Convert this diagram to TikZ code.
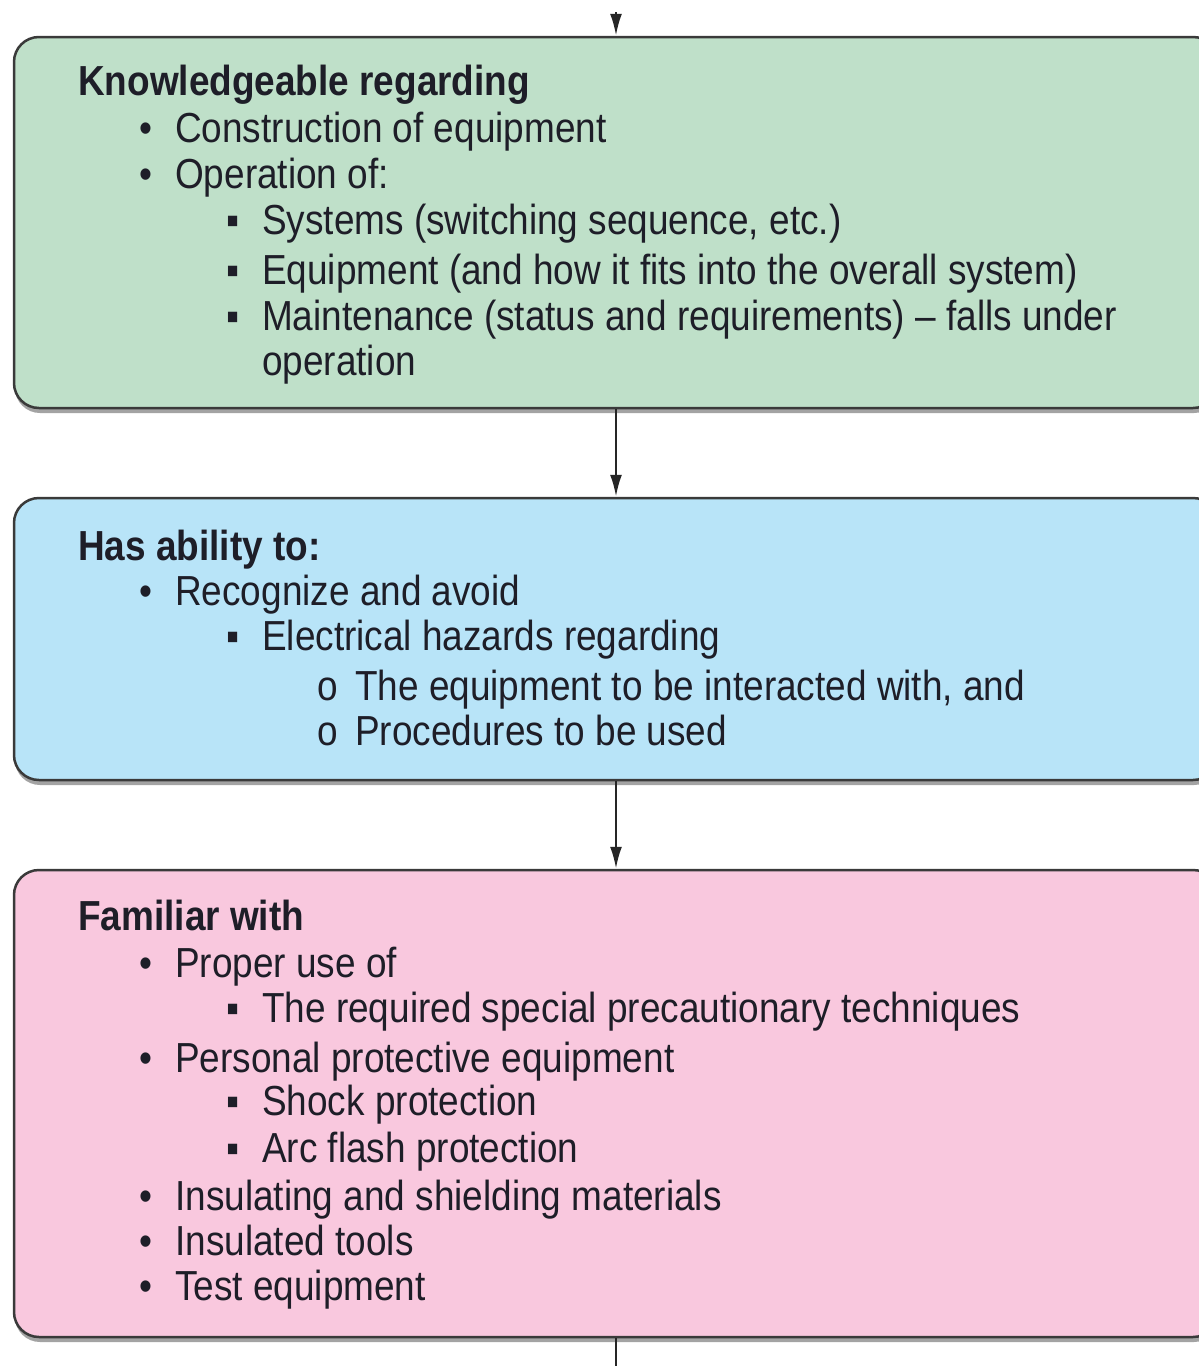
\documentclass[tikz,border=0pt]{standalone}
\usepackage{fontspec}
\setmainfont{Liberation Sans}[FakeStretch=0.88]
\usetikzlibrary{arrows.meta,shadows}
\definecolor{gfill}{HTML}{BFE0C9}
\definecolor{bfill}{HTML}{B8E4F8}
\definecolor{pfill}{HTML}{F9C8DE}
\definecolor{edge}{HTML}{3A3A3A}
\definecolor{ink}{HTML}{1E1E28}
\tikzset{
  box/.style={draw=edge, line width=2.5pt, rounded corners=25pt, minimum width=1204pt,
    drop shadow={shadow xshift=1pt, shadow yshift=-5pt, fill=black!45, opacity=0.8}},
  txt/.style={anchor=base west, inner sep=0pt, text=ink, font=\fontsize{42}{46}\selectfont},
  head/.style={txt, font=\fontsize{42}{46}\selectfont\bfseries},
  conn/.style={draw=black!85, line width=2.4pt, -{Latex[length=22pt,width=12pt]}}
}
\begin{document}
\begin{tikzpicture}[x=1pt,y=-1pt]
\useasboundingbox[fill=white] (0,0) rectangle (1199,1366);
% boxes
\node[box, fill=gfill, minimum height=371pt] (g) at (616,222.5) {};
\node[box, fill=bfill, minimum height=282pt] (b) at (616,639) {};
\node[box, fill=pfill, minimum height=467pt] (p) at (616,1103.5) {};
% connectors
\coordinate (top) at (616,12);
\coordinate (bot) at (616,1380);
\draw[conn] (top) -- (g.north);
\draw[conn] (g.south) -- (b.north);
\draw[conn] (b.south) -- (p.north);
\draw[draw=black!85, line width=2.4pt] (p.south) -- (bot);
% green text
\node[head] (g0) at (78,95) {Knowledgeable regarding};
\node[txt] (g1b) at (139,142) {•};
\node[txt] (g1) at (175,142) {Construction of equipment};
\node[txt] (g2b) at (139,188) {•};
\node[txt] (g2) at (175,188) {Operation of:};
\node[txt] (g3b) at (226,234) {▪};
\node[txt] (g3) at (262,234) {Systems (switching sequence, etc.)};
\node[txt] (g4b) at (226,284) {▪};
\node[txt] (g4) at (262,284) {Equipment (and how it fits into the overall system)};
\node[txt] (g5b) at (226,330) {▪};
\node[txt] (g5) at (262,330) {Maintenance (status and requirements) – falls under};
\node[txt] (g6) at (262,375) {operation};
% blue text
\node[head] (b0) at (78,560) {Has ability to:};
\node[txt] (b1b) at (139,605) {•};
\node[txt] (b1) at (175,605) {Recognize and avoid};
\node[txt] (b2b) at (226,650) {▪};
\node[txt] (b2) at (262,650) {Electrical hazards regarding};
\node[txt] (b3b) at (317,700) {o};
\node[txt] (b3) at (355,700) {The equipment to be interacted with, and};
\node[txt] (b4b) at (317,745) {o};
\node[txt] (b4) at (355,745) {Procedures to be used};
% pink text
\node[head] (p0) at (78,930) {Familiar with};
\node[txt] (p1b) at (139,977) {•};
\node[txt] (p1) at (175,977) {Proper use of};
\node[txt] (p2b) at (226,1022) {▪};
\node[txt] (p2) at (262,1022) {The required special precautionary techniques};
\node[txt] (p3b) at (139,1072) {•};
\node[txt] (p3) at (175,1072) {Personal protective equipment};
\node[txt] (p4b) at (226,1115) {▪};
\node[txt] (p4) at (262,1115) {Shock protection};
\node[txt] (p5b) at (226,1162) {▪};
\node[txt] (p5) at (262,1162) {Arc flash protection};
\node[txt] (p6b) at (139,1210) {•};
\node[txt] (p6) at (175,1210) {Insulating and shielding materials};
\node[txt] (p7b) at (139,1255) {•};
\node[txt] (p7) at (175,1255) {Insulated tools};
\node[txt] (p8b) at (139,1300) {•};
\node[txt] (p8) at (175,1300) {Test equipment};
\end{tikzpicture}
\end{document}
